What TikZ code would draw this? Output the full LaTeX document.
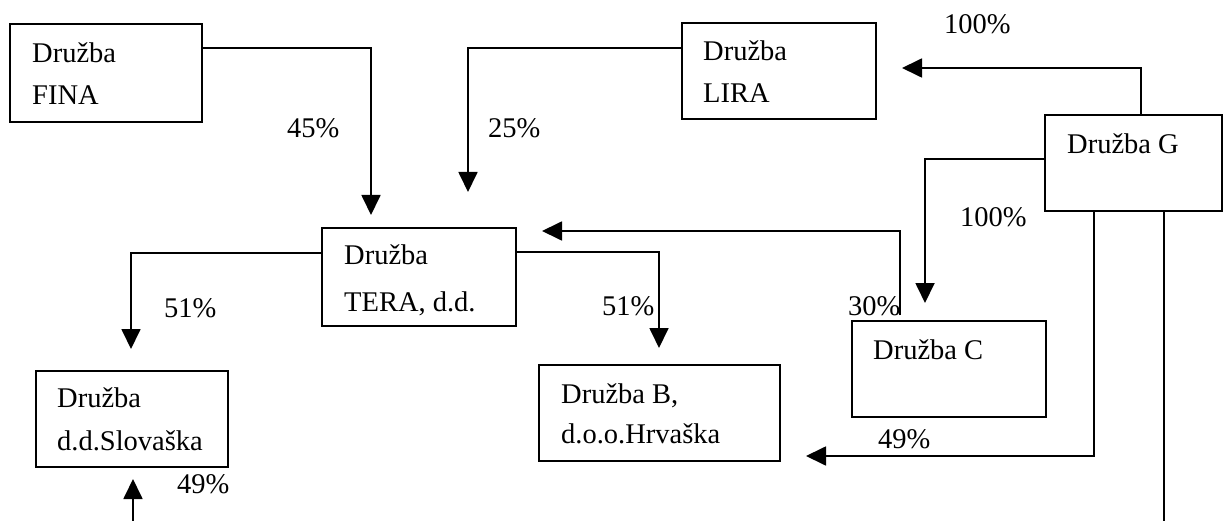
\documentclass[tikz,border=0pt]{standalone}
\usepackage{fontspec}
\setmainfont{Liberation Serif}
\usetikzlibrary{arrows.meta}
\tikzset{
  box/.style={draw, rectangle, line width=1.9pt, inner sep=0pt},
  conn/.style={line width=1.8pt},
  arr/.style={conn, -{Triangle[length=20pt,width=19pt]}},
  txt/.style={anchor=base west, inner sep=0pt, font=\fontsize{28.5}{34}\selectfont},
}
\begin{document}
\begin{tikzpicture}[x=1pt,y=-1pt]
\useasboundingbox (0,0) rectangle (1225,521);

% boxes
\node[box, minimum width=192pt, minimum height=98pt] (fina) at (106,73) {};
\node[box, minimum width=194pt, minimum height=96pt] (lira) at (779,71) {};
\node[box, minimum width=177pt, minimum height=96pt] (g) at (1133.5,163) {};
\node[box, minimum width=194pt, minimum height=98pt] (tera) at (419,277) {};
\node[box, minimum width=194pt, minimum height=96pt] (c) at (949,369) {};
\node[box, minimum width=192pt, minimum height=96pt] (slo) at (132,419) {};
\node[box, minimum width=241pt, minimum height=96pt] (b) at (659.5,413) {};

% box texts
\node[txt] (fina1) at (32,63) {Družba};
\node[txt] (fina2) at (32,105) {FINA};
\node[txt] (lira1) at (703,61) {Družba};
\node[txt] (lira2) at (703,103) {LIRA};
\node[txt] (g1) at (1067,154) {Družba G};
\node[txt] (tera1) at (344,265) {Družba};
\node[txt] (tera2) at (344,311) {TERA, d.d.};
\node[txt] (c1) at (873,359) {Družba C};
\node[txt] (slo1) at (57,407) {Družba};
\node[txt] (slo2) at (57,450) {d.d.Slovaška};
\node[txt] (b1) at (561,403) {Družba B,};
\node[txt] (b2) at (561,443) {d.o.o.Hrvaška};

% percentage labels
\node[txt] (p45) at (287,138) {45\%};
\node[txt] (p25) at (488,138) {25\%};
\node[txt] (p100a) at (944,34) {100\%};
\node[txt] (p100b) at (960,227) {100\%};
\node[txt] (p30) at (848,315) {30\%};
\node[txt] (p51a) at (164,317) {51\%};
\node[txt] (p51b) at (602,315) {51\%};
\node[txt] (p49a) at (878,448) {49\%};
\node[txt] (p49b) at (177,493) {49\%};

% free ends of connectors
\coordinate (t45) at (371,215);
\coordinate (t25) at (468,192);
\coordinate (tlira) at (902,68);
\coordinate (tc) at (925,303);
\coordinate (s30) at (900,315);
\coordinate (t30) at (542,231);
\coordinate (tslo) at (131,349);
\coordinate (tb) at (659,348);
\coordinate (tb49) at (806,456);
\coordinate (gdown) at (1164,521);
\coordinate (sup49) at (133,521);
\coordinate (tup49) at (133,479);

% connectors
\draw[arr] (fina.east |- 0,48) -| (t45);
\draw[arr] (lira.west |- 0,48) -| (t25);
\draw[arr] (1141,0 |- g.north) |- (tlira);
\draw[arr] (g.west |- 0,159) -| (tc);
\draw[arr] (s30) |- (t30);
\draw[arr] (tera.west |- 0,253) -| (tslo);
\draw[arr] (tera.east |- 0,252) -| (tb);
\draw[arr] (1094,0 |- g.south) |- (tb49);
\draw[conn] (1164,0 |- g.south) -- (gdown);
\draw[arr] (sup49) -- (tup49);
\end{tikzpicture}
\end{document}
